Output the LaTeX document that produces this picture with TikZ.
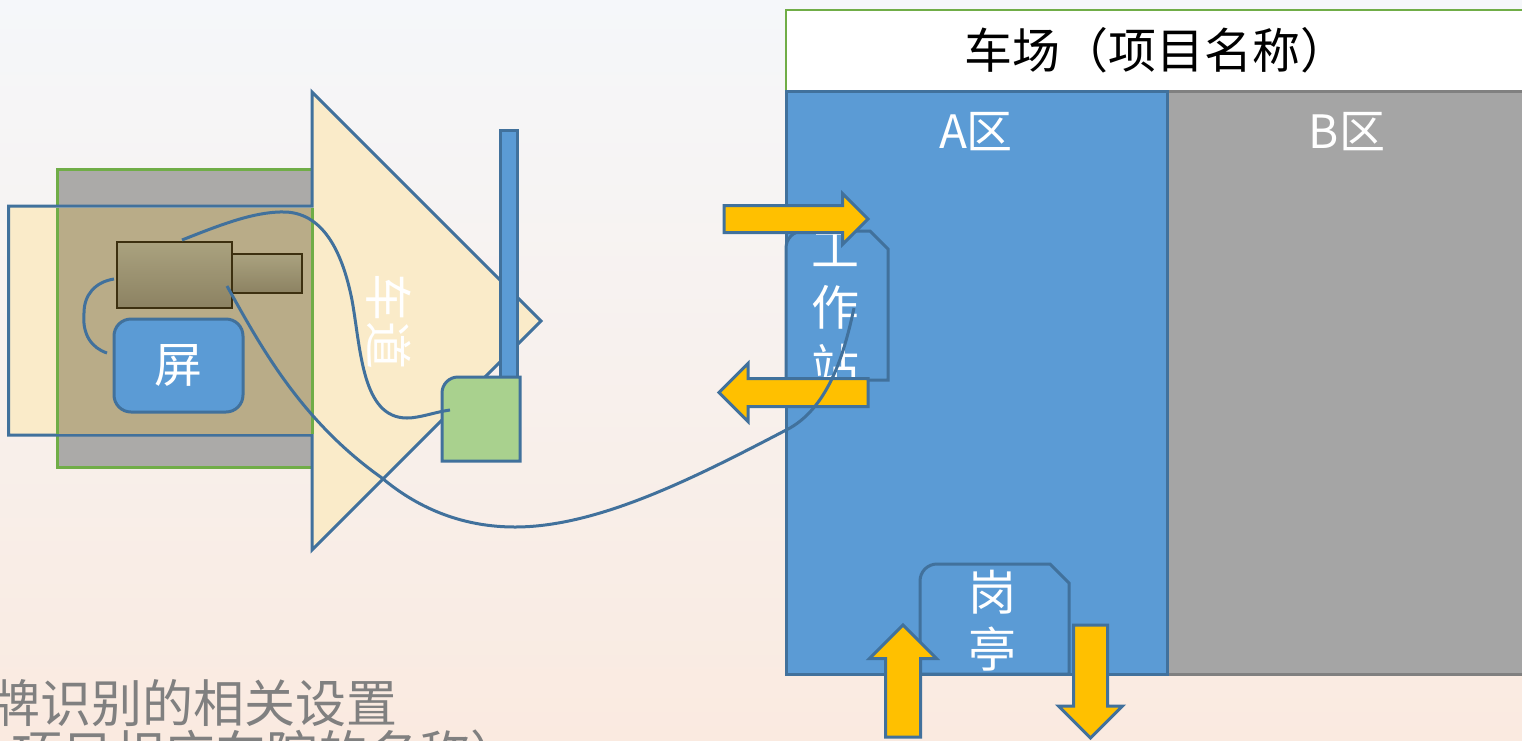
\documentclass[tikz,border=0pt]{standalone}
\usepackage{fontspec}
\usepackage{xcolor}
\usetikzlibrary{shapes.arrows}
\setmainfont{Noto Sans CJK SC}
\definecolor{edgeblue}{HTML}{41719C}
\definecolor{fillblue}{HTML}{5B9BD5}
\definecolor{bordergreen}{HTML}{70AD47}
\definecolor{cream}{HTML}{FAEBC9}
\definecolor{tan}{HTML}{B9AC88}
\definecolor{bandgray}{HTML}{ABAAA8}
\definecolor{zonegray}{HTML}{A5A5A5}
\definecolor{camedge}{HTML}{3D3010}
\definecolor{camtopcolor}{HTML}{AAA27F}
\definecolor{cambottomcolor}{HTML}{8C8262}
\definecolor{flowyellow}{HTML}{FFC000}
\definecolor{boxgreen}{HTML}{A9D18E}
\definecolor{pagetop}{HTML}{F5F7FA}
\definecolor{pagebottom}{HTML}{FAEAE0}

\begin{document}
\begin{tikzpicture}[x=1pt,y=-1pt,inner sep=0pt]
	\tikzstyle{box} = [draw=edgeblue, line width=3pt]
	\tikzstyle{rectbox} = [box, inner sep=0pt, outer sep=0pt]
	\tikzstyle{cambox} = [draw=camedge, line width=1.5pt, top color=camtopcolor, bottom color=cambottomcolor, outer sep=0pt]
	\tikzstyle{word} = [text=white, font=\fontsize{48}{57}\selectfont, align=center]
	\tikzstyle{flow} = [single arrow, draw=edgeblue, line width=3pt, fill=flowyellow, single arrow head indent=0pt, outer sep=0pt, anchor=tail, text width=0pt]
	\tikzstyle{wire} = [draw=edgeblue, line width=3pt]
	\useasboundingbox (0,0) rectangle (1522,740);
	\clip (0,0) rectangle (1522,740);
	\shade [top color=pagetop, bottom color=pagebottom] (0,0) rectangle (1522,740);

	% lane
	\node[draw=bordergreen, line width=3pt, fill=bandgray, minimum width=255pt, minimum height=298pt] (band) at (184.5,318) {};
	\draw [box, fill=cream] (8.5,206) -- (312,206) -- (312,92) -- (541,321) -- (312,550) -- (312,435) -- (8.5,435) -- cycle;
	\fill [tan] (57,207.5) rectangle (311,433.5);
	\draw [bordergreen, line width=3pt] (57,207.5) -- (57,433.5) (312,207.5) -- (312,433.5);
	\node[word, rotate=-90] (lane) at (389,321) {车道};

	% camera and screen
	\node[cambox, minimum width=70pt, minimum height=39pt] (lens) at (267,273.5) {};
	\node[cambox, minimum width=115pt, minimum height=66pt] (cam) at (174.5,275) {};
	\node[rectbox, word, fill=fillblue, rounded corners=17pt, minimum width=129pt, minimum height=93pt] (screen) at (178.5,365.5) {屏};

	% barrier
	\node[rectbox, fill=fillblue, minimum width=17pt, minimum height=248pt] (barrier) at (508.5,254) {};
	\draw [box, fill=boxgreen] (442,461) [rounded corners=16pt] -- (442,377) [sharp corners] -- (520,377) -- (520,461) -- cycle;

	% parking
	\node[draw=bordergreen, line width=2.5pt, fill=white, minimum width=760pt, minimum height=81pt, outer sep=0pt] (title) at (1166,50.5) {};
	\node[font=\fontsize{48}{57}\selectfont] (titletext) at (1156,50) {车场（项目名称）};
	\node[rectbox, fill=zonegray, draw=gray, minimum width=380pt, minimum height=583pt] (zoneb) at (1357,382.5) {};
	\node[rectbox, fill=fillblue, minimum width=381pt, minimum height=583pt] (zonea) at (976.5,382.5) {};
	\node[word, font=\fontsize{46}{50}\selectfont] (zonealabel) at (976,132) {A区};
	\node[word, font=\fontsize{46}{50}\selectfont] (zoneblabel) at (1347,132) {B区};

	% station and booth
	\draw [box, fill=fillblue] (786,380) [rounded corners=17pt] -- (786,231) [sharp corners] -- (870,231) -- (888,249) -- (888,380) -- cycle;
	\node[word, font=\fontsize{48}{59}\selectfont, anchor=north] (station) at (835,231) {工\\作\\站};
	\draw [box, fill=fillblue] (920,674) [rounded corners=17pt] -- (920,564) [sharp corners] -- (1050,564) -- (1069,583) -- (1069,674) -- cycle;
	\node[word] (booth) at (992,621) {岗\\亭};

	% flows
	\node[flow, text height=24pt, minimum height=144pt, single arrow head extend=12pt] (flowin) at (724,219) {};
	\node[flow, text height=25pt, minimum height=149pt, single arrow head extend=15pt, rotate=180] (flowout) at (868,392.5) {};
	\node[flow, text height=32pt, minimum height=112pt, single arrow head extend=16pt, rotate=90] (flowup) at (903,737) {};
	\node[flow, text height=31pt, minimum height=113pt, single arrow head extend=15pt, rotate=-90] (flowdown) at (1090.5,625) {};

	% wires
	\coordinate (camtop) at (182,240);
	\coordinate (camout) at (227,286);
	\coordinate (camleft) at (114,279);
	\coordinate (screenleft) at (107,353);
	\coordinate (boxin) at (450,410);
	\coordinate (stationin) at (854,308);
	\path [wire] (camtop) .. controls (220,225) and (255,211) .. (286,212) .. controls (325,214) and (343,255) .. (352,300) .. controls (361,350) and (362,418) .. (407,418) .. controls (420,418) and (435,412) .. (boxin);
	\path [wire] (camout) .. controls (260,345) and (300,420) .. (382,478) .. controls (420,510) and (465,527) .. (515,527) .. controls (600,527) and (700,475) .. (790,428) .. controls (830,405) and (845,350) .. (stationin);
	\path [wire] (camleft) .. controls (95,282) and (84,295) .. (84,313) .. controls (82,335) and (92,348) .. (screenleft);

	% caption
	\node[gray, font=\fontsize{51}{51}\selectfont, anchor=east] (captionone) at (398,703) {牌识别的相关设置};
	\node[gray, font=\fontsize{51}{51}\selectfont, anchor=east] (captiontwo) at (522,754) {项目相应车院的名称）};
\end{tikzpicture}
\end{document}
